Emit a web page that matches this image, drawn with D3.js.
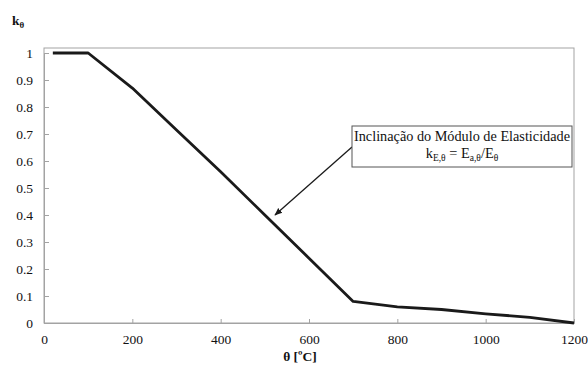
<!DOCTYPE html>
<html>
<head>
<meta charset="utf-8">
<script src="https://cdn.jsdelivr.net/npm/d3@7"></script>
<style>
  html, body { margin: 0; padding: 0; background: #fff; }
  svg { display: block; font-family: "Liberation Serif", "Times New Roman", serif; }
</style>
</head>
<body>
<svg id="chart" width="588" height="367"></svg>
<script>
// Reduction factor of the elastic modulus versus temperature
const temperatures = [20, 100, 200, 300, 400, 500, 600, 700, 800, 900, 1000, 1100, 1200];
const kValues      = [1, 1, 0.87, 0.715, 0.56, 0.40, 0.24, 0.08, 0.06, 0.05, 0.034, 0.021, 0];
const xTicks = [0, 200, 400, 600, 800, 1000, 1200];
const yTicks = [0, 0.1, 0.2, 0.3, 0.4, 0.5, 0.6, 0.7, 0.8, 0.9, 1];
// Point on the curve indicated by the callout arrow
const calloutTarget = [523, 0.40];

const svg = d3.select("#chart");
const plotLeft = 44, plotRight = 574, plotTop = 48, plotBottom = 323, yTopPx = 53;
const axisColor = "#a3a3a3";
const textColor = "#111";
const serif = "'Liberation Serif', 'Times New Roman', serif";

const x = d3.scaleLinear().domain([0, 1200]).range([plotLeft, plotRight]);
const y = d3.scaleLinear().domain([0, 1]).range([plotBottom, yTopPx]);

// plot frame
svg.append("rect")
  .attr("x", plotLeft).attr("y", plotTop)
  .attr("width", plotRight - plotLeft).attr("height", plotBottom - plotTop)
  .attr("fill", "none").attr("stroke", axisColor).attr("stroke-width", 1);

// y axis
const yAxis = svg.append("g")
  .attr("transform", `translate(${plotLeft},0)`)
  .call(d3.axisLeft(y).tickValues(yTicks).tickSize(-5).tickPadding(11)
        .tickFormat(d => d3.format("~g")(d)));
yAxis.attr("font-family", serif);
yAxis.select(".domain").attr("stroke", axisColor);
yAxis.selectAll(".tick line").attr("stroke", axisColor);
yAxis.selectAll("text").attr("font-size", 13.5).attr("fill", textColor);

// x axis
const xAxis = svg.append("g")
  .attr("transform", `translate(0,${plotBottom})`)
  .call(d3.axisBottom(x).tickValues(xTicks).tickSize(-4).tickPadding(11).tickFormat(d3.format("d")));
xAxis.attr("font-family", serif);
xAxis.select(".domain").attr("stroke", axisColor);
xAxis.selectAll(".tick line").attr("stroke", axisColor);
xAxis.selectAll("text").attr("font-size", 13.5).attr("fill", textColor);

// data line
const line = d3.line().x((d, i) => x(temperatures[i])).y(d => y(d));
svg.append("path")
  .datum(kValues)
  .attr("d", line)
  .attr("fill", "none")
  .attr("stroke", "#1a1a1a")
  .attr("stroke-width", 2.8)
  .attr("stroke-linejoin", "round");

// axis titles
const yTitle = svg.append("text")
  .attr("x", 12).attr("y", 25)
  .attr("font-family", serif)
  .attr("font-size", 13.5).attr("font-weight", "bold").attr("fill", textColor);
yTitle.append("tspan").text("k");
yTitle.append("tspan").attr("dy", 3).attr("font-size", 9).text("θ");

svg.append("text")
  .attr("x", 300).attr("y", 361)
  .attr("text-anchor", "middle")
  .attr("font-family", serif)
  .attr("font-size", 13.5).attr("font-weight", "bold").attr("fill", textColor)
  .text("θ [ºC]");

// callout box with arrow
const boxX = 352, boxY = 126, boxW = 220, boxH = 41;
svg.append("defs").append("marker")
  .attr("id", "arrowhead")
  .attr("viewBox", "0 0 10 10")
  .attr("refX", 9).attr("refY", 5)
  .attr("markerWidth", 6).attr("markerHeight", 6)
  .attr("orient", "auto")
  .append("path").attr("d", "M0,1 L10,5 L0,9 Z").attr("fill", "#1a1a1a");

svg.append("line")
  .attr("x1", boxX).attr("y1", boxY + 21)
  .attr("x2", x(calloutTarget[0])).attr("y2", y(calloutTarget[1]))
  .attr("stroke", "#1a1a1a").attr("stroke-width", 1.3)
  .attr("marker-end", "url(#arrowhead)");

svg.append("rect")
  .attr("x", boxX).attr("y", boxY).attr("width", boxW).attr("height", boxH)
  .attr("fill", "#fff").attr("stroke", "#555").attr("stroke-width", 1);

svg.append("text")
  .attr("x", boxX + boxW / 2).attr("y", boxY + 15)
  .attr("text-anchor", "middle")
  .attr("font-family", serif)
  .attr("font-size", 14.4).attr("fill", textColor)
  .attr("textLength", boxW - 4).attr("lengthAdjust", "spacingAndGlyphs")
  .text("Inclinação do Módulo de Elasticidade");

const eq = svg.append("text")
  .attr("x", boxX + boxW / 2).attr("y", boxY + 32)
  .attr("text-anchor", "middle")
  .attr("font-family", serif)
  .attr("font-size", 14.4).attr("fill", textColor);
eq.append("tspan").text("k");
eq.append("tspan").attr("font-size", 9.5).attr("dy", 3).text("E,θ");
eq.append("tspan").attr("dy", -3).text(" = E");
eq.append("tspan").attr("font-size", 9.5).attr("dy", 3).text("a,θ");
eq.append("tspan").attr("dy", -3).text("/E");
eq.append("tspan").attr("font-size", 9.5).attr("dy", 3).text("θ");
</script>
</body>
</html>
